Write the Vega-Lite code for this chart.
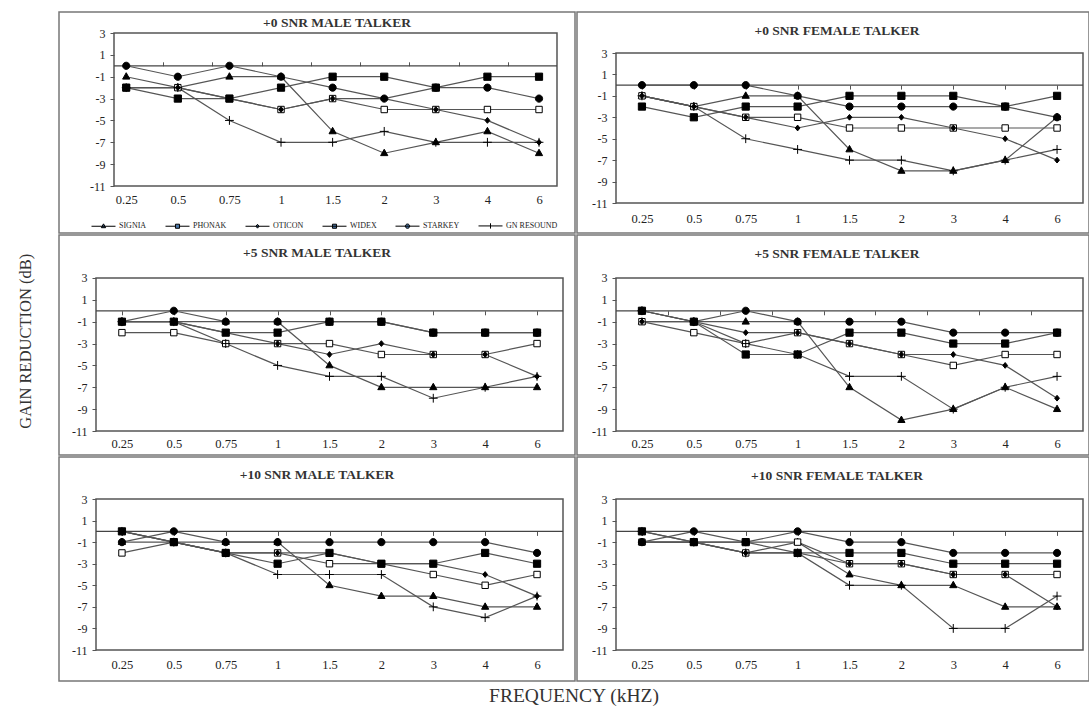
{
"$schema": "https://vega.github.io/schema/vega-lite/v6.json",
"padding": {"left": 17, "top": 11, "right": 0, "bottom": 0},
"background": "white",
"config": {
  "view": {"stroke": "#777", "strokeWidth": 1.5},
  "font": "Liberation Serif",
  "axis": {"labelFont": "Liberation Serif", "labelColor": "#222", "tickColor": "#555", "grid": false},
  "title": {"font": "Liberation Serif", "fontSize": 13.5, "fontWeight": "bold", "color": "#333", "anchor": "middle", "frame": "group"}
},
"datasets": {"d": [
{"p":"M0","s":"SIGNIA","f":"0.25","v":-1},{"p":"M0","s":"SIGNIA","f":"0.5","v":-2},{"p":"M0","s":"SIGNIA","f":"0.75","v":-1},{"p":"M0","s":"SIGNIA","f":"1","v":-1},{"p":"M0","s":"SIGNIA","f":"1.5","v":-6},{"p":"M0","s":"SIGNIA","f":"2","v":-8},{"p":"M0","s":"SIGNIA","f":"3","v":-7},{"p":"M0","s":"SIGNIA","f":"4","v":-6},{"p":"M0","s":"SIGNIA","f":"6","v":-8},
{"p":"M0","s":"PHONAK","f":"0.25","v":-2},{"p":"M0","s":"PHONAK","f":"0.5","v":-2},{"p":"M0","s":"PHONAK","f":"0.75","v":-3},{"p":"M0","s":"PHONAK","f":"1","v":-4},{"p":"M0","s":"PHONAK","f":"1.5","v":-3},{"p":"M0","s":"PHONAK","f":"2","v":-4},{"p":"M0","s":"PHONAK","f":"3","v":-4},{"p":"M0","s":"PHONAK","f":"4","v":-4},{"p":"M0","s":"PHONAK","f":"6","v":-4},
{"p":"M0","s":"OTICON","f":"0.25","v":-2},{"p":"M0","s":"OTICON","f":"0.5","v":-2},{"p":"M0","s":"OTICON","f":"0.75","v":-3},{"p":"M0","s":"OTICON","f":"1","v":-4},{"p":"M0","s":"OTICON","f":"1.5","v":-3},{"p":"M0","s":"OTICON","f":"2","v":-3},{"p":"M0","s":"OTICON","f":"3","v":-4},{"p":"M0","s":"OTICON","f":"4","v":-5},{"p":"M0","s":"OTICON","f":"6","v":-7},
{"p":"M0","s":"WIDEX","f":"0.25","v":-2},{"p":"M0","s":"WIDEX","f":"0.5","v":-3},{"p":"M0","s":"WIDEX","f":"0.75","v":-3},{"p":"M0","s":"WIDEX","f":"1","v":-2},{"p":"M0","s":"WIDEX","f":"1.5","v":-1},{"p":"M0","s":"WIDEX","f":"2","v":-1},{"p":"M0","s":"WIDEX","f":"3","v":-2},{"p":"M0","s":"WIDEX","f":"4","v":-1},{"p":"M0","s":"WIDEX","f":"6","v":-1},
{"p":"M0","s":"STARKEY","f":"0.25","v":0},{"p":"M0","s":"STARKEY","f":"0.5","v":-1},{"p":"M0","s":"STARKEY","f":"0.75","v":0},{"p":"M0","s":"STARKEY","f":"1","v":-1},{"p":"M0","s":"STARKEY","f":"1.5","v":-2},{"p":"M0","s":"STARKEY","f":"2","v":-3},{"p":"M0","s":"STARKEY","f":"3","v":-2},{"p":"M0","s":"STARKEY","f":"4","v":-2},{"p":"M0","s":"STARKEY","f":"6","v":-3},
{"p":"M0","s":"GN RESOUND","f":"0.25","v":-2},{"p":"M0","s":"GN RESOUND","f":"0.5","v":-2},{"p":"M0","s":"GN RESOUND","f":"0.75","v":-5},{"p":"M0","s":"GN RESOUND","f":"1","v":-7},{"p":"M0","s":"GN RESOUND","f":"1.5","v":-7},{"p":"M0","s":"GN RESOUND","f":"2","v":-6},{"p":"M0","s":"GN RESOUND","f":"3","v":-7},{"p":"M0","s":"GN RESOUND","f":"4","v":-7},{"p":"M0","s":"GN RESOUND","f":"6","v":-7},
{"p":"F0","s":"SIGNIA","f":"0.25","v":-1},{"p":"F0","s":"SIGNIA","f":"0.5","v":-2},{"p":"F0","s":"SIGNIA","f":"0.75","v":-1},{"p":"F0","s":"SIGNIA","f":"1","v":-1},{"p":"F0","s":"SIGNIA","f":"1.5","v":-6},{"p":"F0","s":"SIGNIA","f":"2","v":-8},{"p":"F0","s":"SIGNIA","f":"3","v":-8},{"p":"F0","s":"SIGNIA","f":"4","v":-7},{"p":"F0","s":"SIGNIA","f":"6","v":-3},
{"p":"F0","s":"PHONAK","f":"0.25","v":-1},{"p":"F0","s":"PHONAK","f":"0.5","v":-2},{"p":"F0","s":"PHONAK","f":"0.75","v":-3},{"p":"F0","s":"PHONAK","f":"1","v":-3},{"p":"F0","s":"PHONAK","f":"1.5","v":-4},{"p":"F0","s":"PHONAK","f":"2","v":-4},{"p":"F0","s":"PHONAK","f":"3","v":-4},{"p":"F0","s":"PHONAK","f":"4","v":-4},{"p":"F0","s":"PHONAK","f":"6","v":-4},
{"p":"F0","s":"OTICON","f":"0.25","v":-1},{"p":"F0","s":"OTICON","f":"0.5","v":-2},{"p":"F0","s":"OTICON","f":"0.75","v":-3},{"p":"F0","s":"OTICON","f":"1","v":-4},{"p":"F0","s":"OTICON","f":"1.5","v":-3},{"p":"F0","s":"OTICON","f":"2","v":-3},{"p":"F0","s":"OTICON","f":"3","v":-4},{"p":"F0","s":"OTICON","f":"4","v":-5},{"p":"F0","s":"OTICON","f":"6","v":-7},
{"p":"F0","s":"WIDEX","f":"0.25","v":-2},{"p":"F0","s":"WIDEX","f":"0.5","v":-3},{"p":"F0","s":"WIDEX","f":"0.75","v":-2},{"p":"F0","s":"WIDEX","f":"1","v":-2},{"p":"F0","s":"WIDEX","f":"1.5","v":-1},{"p":"F0","s":"WIDEX","f":"2","v":-1},{"p":"F0","s":"WIDEX","f":"3","v":-1},{"p":"F0","s":"WIDEX","f":"4","v":-2},{"p":"F0","s":"WIDEX","f":"6","v":-1},
{"p":"F0","s":"STARKEY","f":"0.25","v":0},{"p":"F0","s":"STARKEY","f":"0.5","v":0},{"p":"F0","s":"STARKEY","f":"0.75","v":0},{"p":"F0","s":"STARKEY","f":"1","v":-1},{"p":"F0","s":"STARKEY","f":"1.5","v":-2},{"p":"F0","s":"STARKEY","f":"2","v":-2},{"p":"F0","s":"STARKEY","f":"3","v":-2},{"p":"F0","s":"STARKEY","f":"4","v":-2},{"p":"F0","s":"STARKEY","f":"6","v":-3},
{"p":"F0","s":"GN RESOUND","f":"0.25","v":-1},{"p":"F0","s":"GN RESOUND","f":"0.5","v":-2},{"p":"F0","s":"GN RESOUND","f":"0.75","v":-5},{"p":"F0","s":"GN RESOUND","f":"1","v":-6},{"p":"F0","s":"GN RESOUND","f":"1.5","v":-7},{"p":"F0","s":"GN RESOUND","f":"2","v":-7},{"p":"F0","s":"GN RESOUND","f":"3","v":-8},{"p":"F0","s":"GN RESOUND","f":"4","v":-7},{"p":"F0","s":"GN RESOUND","f":"6","v":-6},
{"p":"M5","s":"SIGNIA","f":"0.25","v":-1},{"p":"M5","s":"SIGNIA","f":"0.5","v":-1},{"p":"M5","s":"SIGNIA","f":"0.75","v":-1},{"p":"M5","s":"SIGNIA","f":"1","v":-1},{"p":"M5","s":"SIGNIA","f":"1.5","v":-5},{"p":"M5","s":"SIGNIA","f":"2","v":-7},{"p":"M5","s":"SIGNIA","f":"3","v":-7},{"p":"M5","s":"SIGNIA","f":"4","v":-7},{"p":"M5","s":"SIGNIA","f":"6","v":-7},
{"p":"M5","s":"PHONAK","f":"0.25","v":-2},{"p":"M5","s":"PHONAK","f":"0.5","v":-2},{"p":"M5","s":"PHONAK","f":"0.75","v":-3},{"p":"M5","s":"PHONAK","f":"1","v":-3},{"p":"M5","s":"PHONAK","f":"1.5","v":-3},{"p":"M5","s":"PHONAK","f":"2","v":-4},{"p":"M5","s":"PHONAK","f":"3","v":-4},{"p":"M5","s":"PHONAK","f":"4","v":-4},{"p":"M5","s":"PHONAK","f":"6","v":-3},
{"p":"M5","s":"OTICON","f":"0.25","v":-1},{"p":"M5","s":"OTICON","f":"0.5","v":-1},{"p":"M5","s":"OTICON","f":"0.75","v":-2},{"p":"M5","s":"OTICON","f":"1","v":-3},{"p":"M5","s":"OTICON","f":"1.5","v":-4},{"p":"M5","s":"OTICON","f":"2","v":-3},{"p":"M5","s":"OTICON","f":"3","v":-4},{"p":"M5","s":"OTICON","f":"4","v":-4},{"p":"M5","s":"OTICON","f":"6","v":-6},
{"p":"M5","s":"WIDEX","f":"0.25","v":-1},{"p":"M5","s":"WIDEX","f":"0.5","v":-1},{"p":"M5","s":"WIDEX","f":"0.75","v":-2},{"p":"M5","s":"WIDEX","f":"1","v":-2},{"p":"M5","s":"WIDEX","f":"1.5","v":-1},{"p":"M5","s":"WIDEX","f":"2","v":-1},{"p":"M5","s":"WIDEX","f":"3","v":-2},{"p":"M5","s":"WIDEX","f":"4","v":-2},{"p":"M5","s":"WIDEX","f":"6","v":-2},
{"p":"M5","s":"STARKEY","f":"0.25","v":-1},{"p":"M5","s":"STARKEY","f":"0.5","v":0},{"p":"M5","s":"STARKEY","f":"0.75","v":-1},{"p":"M5","s":"STARKEY","f":"1","v":-1},{"p":"M5","s":"STARKEY","f":"1.5","v":-1},{"p":"M5","s":"STARKEY","f":"2","v":-1},{"p":"M5","s":"STARKEY","f":"3","v":-2},{"p":"M5","s":"STARKEY","f":"4","v":-2},{"p":"M5","s":"STARKEY","f":"6","v":-2},
{"p":"M5","s":"GN RESOUND","f":"0.25","v":-1},{"p":"M5","s":"GN RESOUND","f":"0.5","v":-1},{"p":"M5","s":"GN RESOUND","f":"0.75","v":-3},{"p":"M5","s":"GN RESOUND","f":"1","v":-5},{"p":"M5","s":"GN RESOUND","f":"1.5","v":-6},{"p":"M5","s":"GN RESOUND","f":"2","v":-6},{"p":"M5","s":"GN RESOUND","f":"3","v":-8},{"p":"M5","s":"GN RESOUND","f":"4","v":-7},{"p":"M5","s":"GN RESOUND","f":"6","v":-6},
{"p":"F5","s":"SIGNIA","f":"0.25","v":-1},{"p":"F5","s":"SIGNIA","f":"0.5","v":-1},{"p":"F5","s":"SIGNIA","f":"0.75","v":-1},{"p":"F5","s":"SIGNIA","f":"1","v":-1},{"p":"F5","s":"SIGNIA","f":"1.5","v":-7},{"p":"F5","s":"SIGNIA","f":"2","v":-10},{"p":"F5","s":"SIGNIA","f":"3","v":-9},{"p":"F5","s":"SIGNIA","f":"4","v":-7},{"p":"F5","s":"SIGNIA","f":"6","v":-9},
{"p":"F5","s":"PHONAK","f":"0.25","v":-1},{"p":"F5","s":"PHONAK","f":"0.5","v":-2},{"p":"F5","s":"PHONAK","f":"0.75","v":-3},{"p":"F5","s":"PHONAK","f":"1","v":-2},{"p":"F5","s":"PHONAK","f":"1.5","v":-3},{"p":"F5","s":"PHONAK","f":"2","v":-4},{"p":"F5","s":"PHONAK","f":"3","v":-5},{"p":"F5","s":"PHONAK","f":"4","v":-4},{"p":"F5","s":"PHONAK","f":"6","v":-4},
{"p":"F5","s":"OTICON","f":"0.25","v":-1},{"p":"F5","s":"OTICON","f":"0.5","v":-1},{"p":"F5","s":"OTICON","f":"0.75","v":-2},{"p":"F5","s":"OTICON","f":"1","v":-2},{"p":"F5","s":"OTICON","f":"1.5","v":-3},{"p":"F5","s":"OTICON","f":"2","v":-4},{"p":"F5","s":"OTICON","f":"3","v":-4},{"p":"F5","s":"OTICON","f":"4","v":-5},{"p":"F5","s":"OTICON","f":"6","v":-8},
{"p":"F5","s":"WIDEX","f":"0.25","v":0},{"p":"F5","s":"WIDEX","f":"0.5","v":-1},{"p":"F5","s":"WIDEX","f":"0.75","v":-4},{"p":"F5","s":"WIDEX","f":"1","v":-4},{"p":"F5","s":"WIDEX","f":"1.5","v":-2},{"p":"F5","s":"WIDEX","f":"2","v":-2},{"p":"F5","s":"WIDEX","f":"3","v":-3},{"p":"F5","s":"WIDEX","f":"4","v":-3},{"p":"F5","s":"WIDEX","f":"6","v":-2},
{"p":"F5","s":"STARKEY","f":"0.25","v":0},{"p":"F5","s":"STARKEY","f":"0.5","v":-1},{"p":"F5","s":"STARKEY","f":"0.75","v":0},{"p":"F5","s":"STARKEY","f":"1","v":-1},{"p":"F5","s":"STARKEY","f":"1.5","v":-1},{"p":"F5","s":"STARKEY","f":"2","v":-1},{"p":"F5","s":"STARKEY","f":"3","v":-2},{"p":"F5","s":"STARKEY","f":"4","v":-2},{"p":"F5","s":"STARKEY","f":"6","v":-2},
{"p":"F5","s":"GN RESOUND","f":"0.25","v":0},{"p":"F5","s":"GN RESOUND","f":"0.5","v":-1},{"p":"F5","s":"GN RESOUND","f":"0.75","v":-3},{"p":"F5","s":"GN RESOUND","f":"1","v":-4},{"p":"F5","s":"GN RESOUND","f":"1.5","v":-6},{"p":"F5","s":"GN RESOUND","f":"2","v":-6},{"p":"F5","s":"GN RESOUND","f":"3","v":-9},{"p":"F5","s":"GN RESOUND","f":"4","v":-7},{"p":"F5","s":"GN RESOUND","f":"6","v":-6},
{"p":"M10","s":"SIGNIA","f":"0.25","v":-1},{"p":"M10","s":"SIGNIA","f":"0.5","v":-1},{"p":"M10","s":"SIGNIA","f":"0.75","v":-1},{"p":"M10","s":"SIGNIA","f":"1","v":-1},{"p":"M10","s":"SIGNIA","f":"1.5","v":-5},{"p":"M10","s":"SIGNIA","f":"2","v":-6},{"p":"M10","s":"SIGNIA","f":"3","v":-6},{"p":"M10","s":"SIGNIA","f":"4","v":-7},{"p":"M10","s":"SIGNIA","f":"6","v":-7},
{"p":"M10","s":"PHONAK","f":"0.25","v":-2},{"p":"M10","s":"PHONAK","f":"0.5","v":-1},{"p":"M10","s":"PHONAK","f":"0.75","v":-2},{"p":"M10","s":"PHONAK","f":"1","v":-2},{"p":"M10","s":"PHONAK","f":"1.5","v":-3},{"p":"M10","s":"PHONAK","f":"2","v":-3},{"p":"M10","s":"PHONAK","f":"3","v":-4},{"p":"M10","s":"PHONAK","f":"4","v":-5},{"p":"M10","s":"PHONAK","f":"6","v":-4},
{"p":"M10","s":"OTICON","f":"0.25","v":0},{"p":"M10","s":"OTICON","f":"0.5","v":-1},{"p":"M10","s":"OTICON","f":"0.75","v":-2},{"p":"M10","s":"OTICON","f":"1","v":-2},{"p":"M10","s":"OTICON","f":"1.5","v":-2},{"p":"M10","s":"OTICON","f":"2","v":-3},{"p":"M10","s":"OTICON","f":"3","v":-3},{"p":"M10","s":"OTICON","f":"4","v":-4},{"p":"M10","s":"OTICON","f":"6","v":-6},
{"p":"M10","s":"WIDEX","f":"0.25","v":0},{"p":"M10","s":"WIDEX","f":"0.5","v":-1},{"p":"M10","s":"WIDEX","f":"0.75","v":-2},{"p":"M10","s":"WIDEX","f":"1","v":-3},{"p":"M10","s":"WIDEX","f":"1.5","v":-2},{"p":"M10","s":"WIDEX","f":"2","v":-3},{"p":"M10","s":"WIDEX","f":"3","v":-3},{"p":"M10","s":"WIDEX","f":"4","v":-2},{"p":"M10","s":"WIDEX","f":"6","v":-3},
{"p":"M10","s":"STARKEY","f":"0.25","v":-1},{"p":"M10","s":"STARKEY","f":"0.5","v":0},{"p":"M10","s":"STARKEY","f":"0.75","v":-1},{"p":"M10","s":"STARKEY","f":"1","v":-1},{"p":"M10","s":"STARKEY","f":"1.5","v":-1},{"p":"M10","s":"STARKEY","f":"2","v":-1},{"p":"M10","s":"STARKEY","f":"3","v":-1},{"p":"M10","s":"STARKEY","f":"4","v":-1},{"p":"M10","s":"STARKEY","f":"6","v":-2},
{"p":"M10","s":"GN RESOUND","f":"0.25","v":0},{"p":"M10","s":"GN RESOUND","f":"0.5","v":-1},{"p":"M10","s":"GN RESOUND","f":"0.75","v":-2},{"p":"M10","s":"GN RESOUND","f":"1","v":-4},{"p":"M10","s":"GN RESOUND","f":"1.5","v":-4},{"p":"M10","s":"GN RESOUND","f":"2","v":-4},{"p":"M10","s":"GN RESOUND","f":"3","v":-7},{"p":"M10","s":"GN RESOUND","f":"4","v":-8},{"p":"M10","s":"GN RESOUND","f":"6","v":-6},
{"p":"F10","s":"SIGNIA","f":"0.25","v":-1},{"p":"F10","s":"SIGNIA","f":"0.5","v":-1},{"p":"F10","s":"SIGNIA","f":"0.75","v":-1},{"p":"F10","s":"SIGNIA","f":"1","v":-1},{"p":"F10","s":"SIGNIA","f":"1.5","v":-4},{"p":"F10","s":"SIGNIA","f":"2","v":-5},{"p":"F10","s":"SIGNIA","f":"3","v":-5},{"p":"F10","s":"SIGNIA","f":"4","v":-7},{"p":"F10","s":"SIGNIA","f":"6","v":-7},
{"p":"F10","s":"PHONAK","f":"0.25","v":-1},{"p":"F10","s":"PHONAK","f":"0.5","v":-1},{"p":"F10","s":"PHONAK","f":"0.75","v":-2},{"p":"F10","s":"PHONAK","f":"1","v":-1},{"p":"F10","s":"PHONAK","f":"1.5","v":-3},{"p":"F10","s":"PHONAK","f":"2","v":-3},{"p":"F10","s":"PHONAK","f":"3","v":-4},{"p":"F10","s":"PHONAK","f":"4","v":-4},{"p":"F10","s":"PHONAK","f":"6","v":-4},
{"p":"F10","s":"OTICON","f":"0.25","v":-1},{"p":"F10","s":"OTICON","f":"0.5","v":-1},{"p":"F10","s":"OTICON","f":"0.75","v":-2},{"p":"F10","s":"OTICON","f":"1","v":-2},{"p":"F10","s":"OTICON","f":"1.5","v":-3},{"p":"F10","s":"OTICON","f":"2","v":-3},{"p":"F10","s":"OTICON","f":"3","v":-4},{"p":"F10","s":"OTICON","f":"4","v":-4},{"p":"F10","s":"OTICON","f":"6","v":-7},
{"p":"F10","s":"WIDEX","f":"0.25","v":0},{"p":"F10","s":"WIDEX","f":"0.5","v":-1},{"p":"F10","s":"WIDEX","f":"0.75","v":-1},{"p":"F10","s":"WIDEX","f":"1","v":-2},{"p":"F10","s":"WIDEX","f":"1.5","v":-2},{"p":"F10","s":"WIDEX","f":"2","v":-2},{"p":"F10","s":"WIDEX","f":"3","v":-3},{"p":"F10","s":"WIDEX","f":"4","v":-3},{"p":"F10","s":"WIDEX","f":"6","v":-3},
{"p":"F10","s":"STARKEY","f":"0.25","v":-1},{"p":"F10","s":"STARKEY","f":"0.5","v":0},{"p":"F10","s":"STARKEY","f":"0.75","v":-1},{"p":"F10","s":"STARKEY","f":"1","v":0},{"p":"F10","s":"STARKEY","f":"1.5","v":-1},{"p":"F10","s":"STARKEY","f":"2","v":-1},{"p":"F10","s":"STARKEY","f":"3","v":-2},{"p":"F10","s":"STARKEY","f":"4","v":-2},{"p":"F10","s":"STARKEY","f":"6","v":-2},
{"p":"F10","s":"GN RESOUND","f":"0.25","v":0},{"p":"F10","s":"GN RESOUND","f":"0.5","v":-1},{"p":"F10","s":"GN RESOUND","f":"0.75","v":-2},{"p":"F10","s":"GN RESOUND","f":"1","v":-2},{"p":"F10","s":"GN RESOUND","f":"1.5","v":-5},{"p":"F10","s":"GN RESOUND","f":"2","v":-5},{"p":"F10","s":"GN RESOUND","f":"3","v":-9},{"p":"F10","s":"GN RESOUND","f":"4","v":-9},{"p":"F10","s":"GN RESOUND","f":"6","v":-6}
]},
"title": {"text": "GAIN REDUCTION (dB)", "orient": "left", "anchor": "middle", "frame": "bounds", "offset": 24, "dx": 17, "font": "Liberation Serif", "fontSize": 16.5, "fontWeight": "normal", "color": "#333"},
"spacing": 0,
"vconcat": [{
"title": {"text": "FREQUENCY (kHZ)", "orient": "bottom", "anchor": "middle", "frame": "bounds", "offset": 5, "font": "Liberation Serif", "fontSize": 19.5, "fontWeight": "normal", "color": "#333"},
"columns": 2,
"spacing": 0,
"align": "each",
"resolve": {"scale": {"shape": "independent", "fill": "independent"}, "legend": {"shape": "independent", "fill": "independent"}},
"concat": [
  {"width": 516, "height": 221,
   "title": {"text": "+0 SNR MALE TALKER", "offset": -17, "dx": 20},
   "resolve": {"scale": {"x": "independent"}, "axis": {"x": "independent", "y": "independent"}},
   "layer": [
    {"data": {"values": [{}]}, "mark": {"type": "rect", "filled": false, "stroke": "#555", "strokeWidth": 1.5},
     "encoding": {"x": {"datum": -0.5, "type": "quantitative", "scale": {"domain": [-1.6174, 8.8657], "nice": false, "zero": false}, "axis": null}, "x2": {"datum": 8.5},
      "y": {"datum": -11, "type": "quantitative", "scale": {"domain": [-15.3, 4.9216], "nice": false, "zero": false}, "axis": {"orient": "left", "offset": -55, "values": [-11,-9,-7,-5,-3,-1,1,3], "domain": false, "tickSize": 4, "labelPadding": 5, "labelFontSize": 12, "labelExpr": "'' + datum.value", "title": null}}, "y2": {"datum": 3}}},
    {"data": {"values": [{}]}, "mark": {"type": "rule", "stroke": "#444", "strokeWidth": 1.2},
     "encoding": {"x": {"datum": -0.5, "type": "quantitative", "scale": {"domain": [-1.6174, 8.8657], "nice": false, "zero": false}, "axis": {"orient": "top", "offset": -53.8, "values": [0.5,1.5,2.5,3.5,4.5,5.5,6.5,7.5], "labels": false, "domain": false, "tickSize": 4, "title": null}}, "x2": {"datum": 8.5},
      "y": {"datum": 0, "type": "quantitative", "scale": {"domain": [-15.3, 4.9216], "nice": false, "zero": false}, "axis": null}}},
    {"data": {"name": "d"}, "transform": [{"filter": "datum.p === 'M0'"}],
     "resolve": {"scale": {"shape": "independent", "fill": "independent"}, "legend": {"shape": "independent", "fill": "independent"}},
     "layer": [
      {"mark": {"type": "line", "color": "#555", "strokeWidth": 1.2},
       "encoding": {"x": {"field": "f", "type": "ordinal", "scale": {"type": "point", "domain": ["0.25","0.5","0.75","1","1.5","2","3","4","6"], "padding": 1.2416, "align": 0.6514}, "axis": {"orient": "bottom", "offset": -47, "domain": false, "ticks": false, "labelPadding": 7, "labelFontSize": 12.5, "labelAngle": 0, "title": null}},
        "y": {"field": "v", "type": "quantitative", "scale": {"domain": [-15.3, 4.9216], "nice": false, "zero": false}, "axis": null}, "detail": {"field": "s"}}},
      {"mark": {"type": "point", "filled": true, "stroke": "black", "strokeWidth": 1, "size": 256, "opacity": 1},
       "encoding": {"x": {"field": "f", "type": "ordinal", "scale": {"type": "point", "domain": ["0.25","0.5","0.75","1","1.5","2","3","4","6"], "padding": 1.2416, "align": 0.6514}},
        "y": {"field": "v", "type": "quantitative", "scale": {"domain": [-15.3, 4.9216], "nice": false, "zero": false}, "axis": null},
        "shape": {"field": "s", "type": "nominal", "scale": {"domain": ["SIGNIA","PHONAK","OTICON","WIDEX","STARKEY","GN RESOUND"], "range": ["M0,-0.5L0.45,0.3L-0.45,0.3Z","M-0.4,-0.4H0.4V0.4H-0.4Z","M0,-0.36L0.3,0L0,0.36L-0.3,0Z","M-0.45,-0.45H0.45V0.45H-0.45Z","M0.45,0A0.45,0.45,0,1,1,-0.45,0A0.45,0.45,0,1,1,0.45,0Z","M-0.55,0H0.55M0,-0.55V0.55"]}, "legend": null},
        "fill": {"field": "s", "type": "nominal", "scale": {"domain": ["SIGNIA","PHONAK","OTICON","WIDEX","STARKEY","GN RESOUND"], "range": ["black","white","black","black","black","black"]}, "legend": null}}},
      {"mark": {"type": "point", "filled": true, "stroke": "black", "strokeWidth": 1, "size": 576, "opacity": 0},
       "encoding": {"x": {"field": "f", "type": "ordinal", "scale": {"type": "point", "domain": ["0.25","0.5","0.75","1","1.5","2","3","4","6"], "padding": 1.2416, "align": 0.6514}},
        "y": {"field": "v", "type": "quantitative", "scale": {"domain": [-15.3, 4.9216], "nice": false, "zero": false}, "axis": null},
        "shape": {"field": "s", "type": "nominal", "scale": {"domain": ["SIGNIA","PHONAK","OTICON","WIDEX","STARKEY","GN RESOUND"], "range": ["M-1,0H1M0,-0.2L0.18,0.12L-0.18,0.12Z","M-1,0H-0.17M0.17,0H1M-0.17,-0.17H0.17V0.17H-0.17Z","M-1,0H1M0,-0.16L0.13,0L0,0.16L-0.13,0Z","M-1,0H1M-0.17,-0.17H0.17V0.17H-0.17Z","M-1,0H1M0.18,0A0.18,0.18,0,1,1,-0.18,0A0.18,0.18,0,1,1,0.18,0Z","M-1,0H1M0,-0.22V0.22"]},
          "legend": {"orient": "none", "legendX": 32, "legendY": 201, "direction": "horizontal", "columns": 6, "title": null, "labelFont": "Liberation Serif", "labelFontSize": 8, "labelColor": "#222", "symbolSize": 576, "symbolStrokeWidth": 1, "symbolOpacity": 1, "columnPadding": 16, "labelOffset": 3, "padding": 0,
            "encode": {"symbols": {"update": {"fill": {"signal": "datum.value === 'PHONAK' ? 'white' : 'black'"}, "stroke": {"value": "black"}, "opacity": {"value": 1}}}}}}}}
     ]}
   ]},
  {"width": 512, "height": 221,
   "title": {"text": "+0 SNR FEMALE TALKER", "offset": -25, "dx": 4},
   "resolve": {"scale": {"x": "independent"}, "axis": {"x": "independent", "y": "independent"}},
   "layer": [
    {"data": {"values": [{}]}, "mark": {"type": "rect", "filled": false, "stroke": "#555", "strokeWidth": 1.5},
     "encoding": {"x": {"datum": -0.5, "type": "quantitative", "scale": {"domain": [-1.2516, 8.6156], "nice": false, "zero": false}, "axis": null}, "x2": {"datum": 8.5},
      "y": {"datum": -11, "type": "quantitative", "scale": {"domain": [-13.8, 6.827], "nice": false, "zero": false}, "axis": {"orient": "left", "offset": -39, "values": [-11,-9,-7,-5,-3,-1,1,3], "domain": false, "tickSize": 4, "labelPadding": 5, "labelFontSize": 12, "labelExpr": "'' + datum.value", "title": null}}, "y2": {"datum": 3}}},
    {"data": {"values": [{}]}, "mark": {"type": "rule", "stroke": "#444", "strokeWidth": 1.2},
     "encoding": {"x": {"datum": -0.5, "type": "quantitative", "scale": {"domain": [-1.2516, 8.6156], "nice": false, "zero": false}, "axis": {"orient": "top", "offset": -73.1, "values": [0,1,2,3,4,5,6,7,8], "labels": false, "domain": false, "tickSize": -4, "title": null}}, "x2": {"datum": 8.5},
      "y": {"datum": 0, "type": "quantitative", "scale": {"domain": [-13.8, 6.827], "nice": false, "zero": false}, "axis": null}}},
    {"data": {"name": "d"}, "transform": [{"filter": "datum.p === 'F0'"}],
     "layer": [
      {"mark": {"type": "line", "color": "#555", "strokeWidth": 1.2},
       "encoding": {"x": {"field": "f", "type": "ordinal", "scale": {"type": "point", "domain": ["0.25","0.5","0.75","1","1.5","2","3","4","6"], "padding": 0.9336, "align": 0.6703}, "axis": {"orient": "bottom", "offset": -30, "domain": false, "ticks": false, "labelPadding": 9, "labelFontSize": 12.5, "labelAngle": 0, "title": null}},
        "y": {"field": "v", "type": "quantitative", "scale": {"domain": [-13.8, 6.827], "nice": false, "zero": false}, "axis": null}, "detail": {"field": "s"}}},
      {"mark": {"type": "point", "filled": true, "stroke": "black", "strokeWidth": 1, "size": 256, "opacity": 1},
       "encoding": {"x": {"field": "f", "type": "ordinal", "scale": {"type": "point", "domain": ["0.25","0.5","0.75","1","1.5","2","3","4","6"], "padding": 0.9336, "align": 0.6703}},
        "y": {"field": "v", "type": "quantitative", "scale": {"domain": [-13.8, 6.827], "nice": false, "zero": false}, "axis": null},
        "shape": {"field": "s", "type": "nominal", "scale": {"domain": ["SIGNIA","PHONAK","OTICON","WIDEX","STARKEY","GN RESOUND"], "range": ["M0,-0.5L0.45,0.3L-0.45,0.3Z","M-0.4,-0.4H0.4V0.4H-0.4Z","M0,-0.36L0.3,0L0,0.36L-0.3,0Z","M-0.45,-0.45H0.45V0.45H-0.45Z","M0.45,0A0.45,0.45,0,1,1,-0.45,0A0.45,0.45,0,1,1,0.45,0Z","M-0.55,0H0.55M0,-0.55V0.55"]}, "legend": null},
        "fill": {"field": "s", "type": "nominal", "scale": {"domain": ["SIGNIA","PHONAK","OTICON","WIDEX","STARKEY","GN RESOUND"], "range": ["black","white","black","black","black","black"]}, "legend": null}}}
     ]}
   ]},
  {"width": 516, "height": 220,
   "title": {"text": "+5 SNR MALE TALKER", "offset": -24, "dx": 0},
   "resolve": {"scale": {"x": "independent"}, "axis": {"x": "independent", "y": "independent"}},
   "layer": [
    {"data": {"values": [{}]}, "mark": {"type": "rect", "filled": false, "stroke": "#555", "strokeWidth": 1.5},
     "encoding": {"x": {"datum": -0.5, "type": "quantitative", "scale": {"domain": [-1.2131, 8.7312], "nice": false, "zero": false}, "axis": null}, "x2": {"datum": 8.5},
      "y": {"datum": -11, "type": "quantitative", "scale": {"domain": [-13.196, 6.934], "nice": false, "zero": false}, "axis": {"orient": "left", "offset": -37, "values": [-11,-9,-7,-5,-3,-1,1,3], "domain": false, "tickSize": 4, "labelPadding": 5, "labelFontSize": 12, "labelExpr": "'' + datum.value", "title": null}}, "y2": {"datum": 3}}},
    {"data": {"values": [{}]}, "mark": {"type": "rule", "stroke": "#444", "strokeWidth": 1.2},
     "encoding": {"x": {"datum": -0.5, "type": "quantitative", "scale": {"domain": [-1.2131, 8.7312], "nice": false, "zero": false}, "axis": {"orient": "top", "offset": -75.8, "values": [0,1,2,3,4,5,6,7,8], "labels": false, "domain": false, "tickSize": -4, "title": null}}, "x2": {"datum": 8.5},
      "y": {"datum": 0, "type": "quantitative", "scale": {"domain": [-13.196, 6.934], "nice": false, "zero": false}, "axis": null}}},
    {"data": {"name": "d"}, "transform": [{"filter": "datum.p === 'M5'"}],
     "layer": [
      {"mark": {"type": "line", "color": "#555", "strokeWidth": 1.2},
       "encoding": {"x": {"field": "f", "type": "ordinal", "scale": {"type": "point", "domain": ["0.25","0.5","0.75","1","1.5","2","3","4","6"], "padding": 0.9722, "align": 0.6238}, "axis": {"orient": "bottom", "offset": -24, "domain": false, "ticks": false, "labelPadding": 6, "labelFontSize": 12.5, "labelAngle": 0, "title": null}},
        "y": {"field": "v", "type": "quantitative", "scale": {"domain": [-13.196, 6.934], "nice": false, "zero": false}, "axis": null}, "detail": {"field": "s"}}},
      {"mark": {"type": "point", "filled": true, "stroke": "black", "strokeWidth": 1, "size": 256, "opacity": 1},
       "encoding": {"x": {"field": "f", "type": "ordinal", "scale": {"type": "point", "domain": ["0.25","0.5","0.75","1","1.5","2","3","4","6"], "padding": 0.9722, "align": 0.6238}},
        "y": {"field": "v", "type": "quantitative", "scale": {"domain": [-13.196, 6.934], "nice": false, "zero": false}, "axis": null},
        "shape": {"field": "s", "type": "nominal", "scale": {"domain": ["SIGNIA","PHONAK","OTICON","WIDEX","STARKEY","GN RESOUND"], "range": ["M0,-0.5L0.45,0.3L-0.45,0.3Z","M-0.4,-0.4H0.4V0.4H-0.4Z","M0,-0.36L0.3,0L0,0.36L-0.3,0Z","M-0.45,-0.45H0.45V0.45H-0.45Z","M0.45,0A0.45,0.45,0,1,1,-0.45,0A0.45,0.45,0,1,1,0.45,0Z","M-0.55,0H0.55M0,-0.55V0.55"]}, "legend": null},
        "fill": {"field": "s", "type": "nominal", "scale": {"domain": ["SIGNIA","PHONAK","OTICON","WIDEX","STARKEY","GN RESOUND"], "range": ["black","white","black","black","black","black"]}, "legend": null}}}
     ]}
   ]},
  {"width": 512, "height": 220,
   "title": {"text": "+5 SNR FEMALE TALKER", "offset": -25, "dx": 4},
   "resolve": {"scale": {"x": "independent"}, "axis": {"x": "independent", "y": "independent"}},
   "layer": [
    {"data": {"values": [{}]}, "mark": {"type": "rect", "filled": false, "stroke": "#555", "strokeWidth": 1.5},
     "encoding": {"x": {"datum": -0.5, "type": "quantitative", "scale": {"domain": [-1.2516, 8.6156], "nice": false, "zero": false}, "axis": null}, "x2": {"datum": 8.5},
      "y": {"datum": -11, "type": "quantitative", "scale": {"domain": [-13.196, 6.934], "nice": false, "zero": false}, "axis": {"orient": "left", "offset": -39, "values": [-11,-9,-7,-5,-3,-1,1,3], "domain": false, "tickSize": 4, "labelPadding": 5, "labelFontSize": 12, "labelExpr": "'' + datum.value", "title": null}}, "y2": {"datum": 3}}},
    {"data": {"values": [{}]}, "mark": {"type": "rule", "stroke": "#444", "strokeWidth": 1.2},
     "encoding": {"x": {"datum": -0.5, "type": "quantitative", "scale": {"domain": [-1.2516, 8.6156], "nice": false, "zero": false}, "axis": {"orient": "top", "offset": -75.8, "values": [0.5,1.5,2.5,3.5,4.5,5.5,6.5,7.5], "labels": false, "domain": false, "tickSize": -4, "title": null}}, "x2": {"datum": 8.5},
      "y": {"datum": 0, "type": "quantitative", "scale": {"domain": [-13.196, 6.934], "nice": false, "zero": false}, "axis": null}}},
    {"data": {"name": "d"}, "transform": [{"filter": "datum.p === 'F5'"}],
     "layer": [
      {"mark": {"type": "line", "color": "#555", "strokeWidth": 1.2},
       "encoding": {"x": {"field": "f", "type": "ordinal", "scale": {"type": "point", "domain": ["0.25","0.5","0.75","1","1.5","2","3","4","6"], "padding": 0.9336, "align": 0.6703}, "axis": {"orient": "bottom", "offset": -24, "domain": false, "ticks": false, "labelPadding": 6, "labelFontSize": 12.5, "labelAngle": 0, "title": null}},
        "y": {"field": "v", "type": "quantitative", "scale": {"domain": [-13.196, 6.934], "nice": false, "zero": false}, "axis": null}, "detail": {"field": "s"}}},
      {"mark": {"type": "point", "filled": true, "stroke": "black", "strokeWidth": 1, "size": 256, "opacity": 1},
       "encoding": {"x": {"field": "f", "type": "ordinal", "scale": {"type": "point", "domain": ["0.25","0.5","0.75","1","1.5","2","3","4","6"], "padding": 0.9336, "align": 0.6703}},
        "y": {"field": "v", "type": "quantitative", "scale": {"domain": [-13.196, 6.934], "nice": false, "zero": false}, "axis": null},
        "shape": {"field": "s", "type": "nominal", "scale": {"domain": ["SIGNIA","PHONAK","OTICON","WIDEX","STARKEY","GN RESOUND"], "range": ["M0,-0.5L0.45,0.3L-0.45,0.3Z","M-0.4,-0.4H0.4V0.4H-0.4Z","M0,-0.36L0.3,0L0,0.36L-0.3,0Z","M-0.45,-0.45H0.45V0.45H-0.45Z","M0.45,0A0.45,0.45,0,1,1,-0.45,0A0.45,0.45,0,1,1,0.45,0Z","M-0.55,0H0.55M0,-0.55V0.55"]}, "legend": null},
        "fill": {"field": "s", "type": "nominal", "scale": {"domain": ["SIGNIA","PHONAK","OTICON","WIDEX","STARKEY","GN RESOUND"], "range": ["black","white","black","black","black","black"]}, "legend": null}}}
     ]}
   ]},
  {"width": 516, "height": 224,
   "title": {"text": "+10 SNR MALE TALKER", "offset": -24, "dx": 0},
   "resolve": {"scale": {"x": "independent"}, "axis": {"x": "independent", "y": "independent"}},
   "layer": [
    {"data": {"values": [{}]}, "mark": {"type": "rect", "filled": false, "stroke": "#555", "strokeWidth": 1.5},
     "encoding": {"x": {"datum": -0.5, "type": "quantitative", "scale": {"domain": [-1.2131, 8.7312], "nice": false, "zero": false}, "axis": null}, "x2": {"datum": 8.5},
      "y": {"datum": -11, "type": "quantitative", "scale": {"domain": [-13.874, 6.894], "nice": false, "zero": false}, "axis": {"orient": "left", "offset": -37, "values": [-11,-9,-7,-5,-3,-1,1,3], "domain": false, "tickSize": 4, "labelPadding": 5, "labelFontSize": 12, "labelExpr": "'' + datum.value", "title": null}}, "y2": {"datum": 3}}},
    {"data": {"values": [{}]}, "mark": {"type": "rule", "stroke": "#444", "strokeWidth": 1.2},
     "encoding": {"x": {"datum": -0.5, "type": "quantitative", "scale": {"domain": [-1.2131, 8.7312], "nice": false, "zero": false}, "axis": {"orient": "top", "offset": -74.4, "values": [0,1,2,3,4,5,6,7,8], "labels": false, "domain": false, "tickSize": -4, "title": null}}, "x2": {"datum": 8.5},
      "y": {"datum": 0, "type": "quantitative", "scale": {"domain": [-13.874, 6.894], "nice": false, "zero": false}, "axis": null}}},
    {"data": {"name": "d"}, "transform": [{"filter": "datum.p === 'M10'"}],
     "layer": [
      {"mark": {"type": "line", "color": "#555", "strokeWidth": 1.2},
       "encoding": {"x": {"field": "f", "type": "ordinal", "scale": {"type": "point", "domain": ["0.25","0.5","0.75","1","1.5","2","3","4","6"], "padding": 0.9722, "align": 0.6238}, "axis": {"orient": "bottom", "offset": -31, "domain": false, "ticks": false, "labelPadding": 8, "labelFontSize": 12.5, "labelAngle": 0, "title": null}},
        "y": {"field": "v", "type": "quantitative", "scale": {"domain": [-13.874, 6.894], "nice": false, "zero": false}, "axis": null}, "detail": {"field": "s"}}},
      {"mark": {"type": "point", "filled": true, "stroke": "black", "strokeWidth": 1, "size": 256, "opacity": 1},
       "encoding": {"x": {"field": "f", "type": "ordinal", "scale": {"type": "point", "domain": ["0.25","0.5","0.75","1","1.5","2","3","4","6"], "padding": 0.9722, "align": 0.6238}},
        "y": {"field": "v", "type": "quantitative", "scale": {"domain": [-13.874, 6.894], "nice": false, "zero": false}, "axis": null},
        "shape": {"field": "s", "type": "nominal", "scale": {"domain": ["SIGNIA","PHONAK","OTICON","WIDEX","STARKEY","GN RESOUND"], "range": ["M0,-0.5L0.45,0.3L-0.45,0.3Z","M-0.4,-0.4H0.4V0.4H-0.4Z","M0,-0.36L0.3,0L0,0.36L-0.3,0Z","M-0.45,-0.45H0.45V0.45H-0.45Z","M0.45,0A0.45,0.45,0,1,1,-0.45,0A0.45,0.45,0,1,1,0.45,0Z","M-0.55,0H0.55M0,-0.55V0.55"]}, "legend": null},
        "fill": {"field": "s", "type": "nominal", "scale": {"domain": ["SIGNIA","PHONAK","OTICON","WIDEX","STARKEY","GN RESOUND"], "range": ["black","white","black","black","black","black"]}, "legend": null}}}
     ]}
   ]},
  {"width": 512, "height": 224,
   "title": {"text": "+10 SNR FEMALE TALKER", "offset": -25, "dx": 4},
   "resolve": {"scale": {"x": "independent"}, "axis": {"x": "independent", "y": "independent"}},
   "layer": [
    {"data": {"values": [{}]}, "mark": {"type": "rect", "filled": false, "stroke": "#555", "strokeWidth": 1.5},
     "encoding": {"x": {"datum": -0.5, "type": "quantitative", "scale": {"domain": [-1.2516, 8.6156], "nice": false, "zero": false}, "axis": null}, "x2": {"datum": 8.5},
      "y": {"datum": -11, "type": "quantitative", "scale": {"domain": [-13.874, 6.894], "nice": false, "zero": false}, "axis": {"orient": "left", "offset": -39, "values": [-11,-9,-7,-5,-3,-1,1,3], "domain": false, "tickSize": 4, "labelPadding": 5, "labelFontSize": 12, "labelExpr": "'' + datum.value", "title": null}}, "y2": {"datum": 3}}},
    {"data": {"values": [{}]}, "mark": {"type": "rule", "stroke": "#444", "strokeWidth": 1.2},
     "encoding": {"x": {"datum": -0.5, "type": "quantitative", "scale": {"domain": [-1.2516, 8.6156], "nice": false, "zero": false}, "axis": {"orient": "top", "offset": -74.4, "values": [0,1,2,3,4,5,6,7,8], "labels": false, "domain": false, "tickSize": -4, "title": null}}, "x2": {"datum": 8.5},
      "y": {"datum": 0, "type": "quantitative", "scale": {"domain": [-13.874, 6.894], "nice": false, "zero": false}, "axis": null}}},
    {"data": {"name": "d"}, "transform": [{"filter": "datum.p === 'F10'"}],
     "layer": [
      {"mark": {"type": "line", "color": "#555", "strokeWidth": 1.2},
       "encoding": {"x": {"field": "f", "type": "ordinal", "scale": {"type": "point", "domain": ["0.25","0.5","0.75","1","1.5","2","3","4","6"], "padding": 0.9336, "align": 0.6703}, "axis": {"orient": "bottom", "offset": -31, "domain": false, "ticks": false, "labelPadding": 8, "labelFontSize": 12.5, "labelAngle": 0, "title": null}},
        "y": {"field": "v", "type": "quantitative", "scale": {"domain": [-13.874, 6.894], "nice": false, "zero": false}, "axis": null}, "detail": {"field": "s"}}},
      {"mark": {"type": "point", "filled": true, "stroke": "black", "strokeWidth": 1, "size": 256, "opacity": 1},
       "encoding": {"x": {"field": "f", "type": "ordinal", "scale": {"type": "point", "domain": ["0.25","0.5","0.75","1","1.5","2","3","4","6"], "padding": 0.9336, "align": 0.6703}},
        "y": {"field": "v", "type": "quantitative", "scale": {"domain": [-13.874, 6.894], "nice": false, "zero": false}, "axis": null},
        "shape": {"field": "s", "type": "nominal", "scale": {"domain": ["SIGNIA","PHONAK","OTICON","WIDEX","STARKEY","GN RESOUND"], "range": ["M0,-0.5L0.45,0.3L-0.45,0.3Z","M-0.4,-0.4H0.4V0.4H-0.4Z","M0,-0.36L0.3,0L0,0.36L-0.3,0Z","M-0.45,-0.45H0.45V0.45H-0.45Z","M0.45,0A0.45,0.45,0,1,1,-0.45,0A0.45,0.45,0,1,1,0.45,0Z","M-0.55,0H0.55M0,-0.55V0.55"]}, "legend": null},
        "fill": {"field": "s", "type": "nominal", "scale": {"domain": ["SIGNIA","PHONAK","OTICON","WIDEX","STARKEY","GN RESOUND"], "range": ["black","white","black","black","black","black"]}, "legend": null}}}
     ]}
   ]}
]}]
}
